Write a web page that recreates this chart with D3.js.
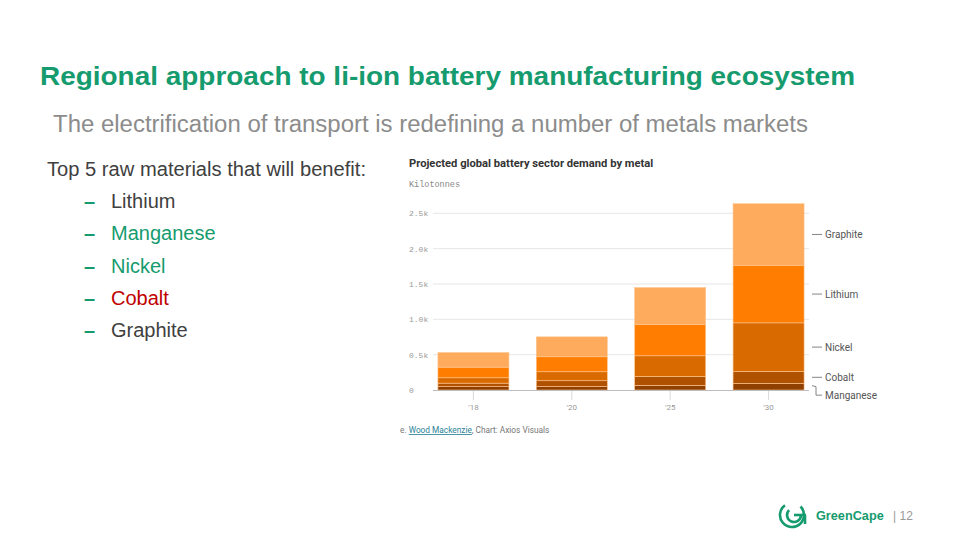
<!DOCTYPE html>
<html>
<head>
<meta charset="utf-8">
<script src="https://cdn.jsdelivr.net/npm/d3@7"></script>
<style>
  html, body { margin: 0; padding: 0; background: #ffffff; }
  svg { display: block; }
</style>
</head>
<body>
<svg id="chart" width="960" height="540"></svg>
<script>
// ---- Data ----
const years = ["'18", "'20", "'25", "'30"];
const metals = ["Manganese", "Cobalt", "Nickel", "Lithium", "Graphite"];
const manganese = [50, 51, 66, 95];
const cobalt = [47, 80, 127, 169];
const nickel = [76, 127, 291, 686];
const lithium = [150, 212, 443, 815];
const graphite = [207, 282, 522, 871];
const yTicks = [0, 500, 1000, 1500, 2000, 2500];
const yTickLabels = ["0", "0.5k", "1.0k", "1.5k", "2.0k", "2.5k"];
const bullets = ["Lithium", "Manganese", "Nickel", "Cobalt", "Graphite"];

const seriesValues = { Manganese: manganese, Cobalt: cobalt, Nickel: nickel, Lithium: lithium, Graphite: graphite };
const colors = { Manganese: "#8f3f00", Cobalt: "#b05100", Nickel: "#d96a00", Lithium: "#ff7d00", Graphite: "#ffab5e" };
const bulletColors = { Lithium: "#404040", Manganese: "#169b6e", Nickel: "#169b6e", Cobalt: "#c00000", Graphite: "#404040" };

const svg = d3.select("#chart");
const green = "#169b6e";
const slideFont = "Liberation Sans, Arial, sans-serif";

// ---- Slide text ----
svg.append("text").attr("x", 40).attr("y", 85)
  .attr("font-family", slideFont).attr("font-weight", "bold")
  .attr("font-size", 26.5).attr("fill", green)
  .attr("textLength", 815).attr("lengthAdjust", "spacingAndGlyphs")
  .text("Regional approach to li-ion battery manufacturing ecosystem");

svg.append("text").attr("x", 53).attr("y", 132)
  .attr("font-family", slideFont)
  .attr("font-size", 23).attr("fill", "#8c8c8c")
  .attr("textLength", 755).attr("lengthAdjust", "spacingAndGlyphs")
  .text("The electrification of transport is redefining a number of metals markets");

svg.append("text").attr("x", 47).attr("y", 176)
  .attr("font-family", slideFont)
  .attr("font-size", 20).attr("fill", "#404040")
  .attr("textLength", 319).attr("lengthAdjust", "spacingAndGlyphs")
  .text("Top 5 raw materials that will benefit:");

const bl = svg.append("g");
bullets.forEach((b, i) => {
  const yy = 208 + i * 32.3;
  bl.append("text").attr("x", 84).attr("y", yy)
    .attr("font-family", slideFont).attr("font-size", 20).attr("font-weight", "bold")
    .attr("fill", green).text("–");
  bl.append("text").attr("x", 111).attr("y", yy)
    .attr("font-family", slideFont).attr("font-size", 20)
    .attr("fill", bulletColors[b]).text(b);
});

// ---- Chart ----
const chartFont = "Roboto, Inter, Liberation Sans, sans-serif";
const monoFont = "Liberation Mono, DejaVu Sans Mono, monospace";

svg.append("text").attr("x", 409).attr("y", 167)
  .attr("font-family", chartFont).attr("font-weight", "bold")
  .attr("font-size", 11.2).attr("fill", "#333")
  .text("Projected global battery sector demand by metal");

svg.append("text").attr("x", 409).attr("y", 187)
  .attr("font-family", monoFont).attr("font-size", 8.5).attr("fill", "#888")
  .text("Kilotonnes");

const x = d3.scaleBand().domain(years).range([433, 809]).paddingInner(0.278).paddingOuter(0.05);
const y = d3.scaleLinear().domain([0, 2500]).range([390, 213.3]);

// gridlines
svg.append("g").selectAll("line").data(yTicks.slice(1)).join("line")
  .attr("x1", 433).attr("x2", 809)
  .attr("y1", d => y(d)).attr("y2", d => y(d))
  .attr("stroke", "#e6e6e6").attr("stroke-width", 1);

svg.append("g").selectAll("text").data(yTicks).join("text")
  .attr("x", 409).attr("y", d => y(d) + 3)
  .attr("font-family", monoFont).attr("font-size", 8).attr("fill", "#999")
  .text((d, i) => yTickLabels[i]);

// stacked bars
const table = years.map((yr, i) => {
  const row = { year: yr };
  metals.forEach(m => row[m] = seriesValues[m][i]);
  return row;
});
const stack = d3.stack().keys(metals)(table);

svg.append("g").selectAll("g").data(stack).join("g")
  .attr("fill", d => colors[d.key])
  .selectAll("rect").data(d => d).join("rect")
  .attr("x", d => x(d.data.year))
  .attr("width", x.bandwidth())
  .attr("y", d => y(d[1]))
  .attr("height", d => y(d[0]) - y(d[1]))
  .attr("stroke", "#ffc58f").attr("stroke-width", 0.6);

// x axis
svg.append("line").attr("x1", 433).attr("x2", 809).attr("y1", y(0) + 0.5).attr("y2", y(0) + 0.5)
  .attr("stroke", "#bdbdbd").attr("stroke-width", 1);
svg.append("g").selectAll("line").data(years).join("line")
  .attr("x1", d => x(d) + x.bandwidth() / 2).attr("x2", d => x(d) + x.bandwidth() / 2)
  .attr("y1", y(0) + 1).attr("y2", y(0) + 10)
  .attr("stroke", "#d9d9d9");
svg.append("g").selectAll("text").data(years).join("text")
  .attr("x", d => x(d) + x.bandwidth() / 2).attr("y", 410)
  .attr("text-anchor", "middle")
  .attr("font-family", chartFont).attr("font-size", 8).attr("fill", "#999")
  .text(d => d);

// right-side labels
const last = stack.map(s => ({ key: s.key, mid: (y(s[3][0]) + y(s[3][1])) / 2 }));
const lab = svg.append("g");
last.forEach(l => {
  let ty = l.mid;
  if (l.key === "Manganese") {
    ty = l.mid + 8.5;
    lab.append("path")
      .attr("d", `M812,${l.mid - 1} L816,${l.mid} L816,${ty} L822,${ty}`)
      .attr("fill", "none").attr("stroke", "#666").attr("stroke-width", 0.8);
  } else {
    lab.append("line").attr("x1", 812).attr("x2", 822).attr("y1", ty).attr("y2", ty)
      .attr("stroke", "#666").attr("stroke-width", 0.8);
  }
  lab.append("text").attr("x", 825).attr("y", ty + 3.5)
    .attr("font-family", chartFont).attr("font-size", 10).attr("fill", "#555")
    .text(l.key);
});

// source
const src = svg.append("text").attr("x", 400).attr("y", 433)
  .attr("font-family", chartFont).attr("font-size", 8.3).attr("fill", "#777");
src.append("tspan").text("e. ");
src.append("tspan").attr("fill", "#2a7f95").attr("text-decoration", "underline").text("Wood Mackenzie");
src.append("tspan").text(", Chart: Axios Visuals");

// ---- Footer logo ----
const logo = svg.append("g").attr("fill", "none").attr("stroke", green).attr("stroke-width", 2.6)
  .attr("stroke-linecap", "butt");
const cx = 792, cy = 515;
logo.append("path").attr("transform", `translate(${cx},${cy})`)
  .attr("d", d3.arc()({ innerRadius: 12, outerRadius: 12, startAngle: Math.PI * 0.25, endAngle: Math.PI * 1.8 }));
logo.append("path").attr("transform", `translate(${cx + 2},${cy})`)
  .attr("d", d3.arc()({ innerRadius: 7, outerRadius: 7, startAngle: Math.PI * 0.5, endAngle: Math.PI * 1.75 }));
logo.append("line").attr("x1", cx + 2).attr("x2", cx + 14).attr("y1", cy).attr("y2", cy);
logo.append("line").attr("x1", cx + 13).attr("x2", cx + 13).attr("y1", cy).attr("y2", cy + 9);

svg.append("text").attr("x", 816).attr("y", 520)
  .attr("font-family", slideFont).attr("font-weight", "bold")
  .attr("font-size", 12.7).attr("fill", green).text("GreenCape");
svg.append("text").attr("x", 893).attr("y", 520)
  .attr("font-family", slideFont)
  .attr("font-size", 12).attr("fill", "#999").text("| 12");
</script>
</body>
</html>
